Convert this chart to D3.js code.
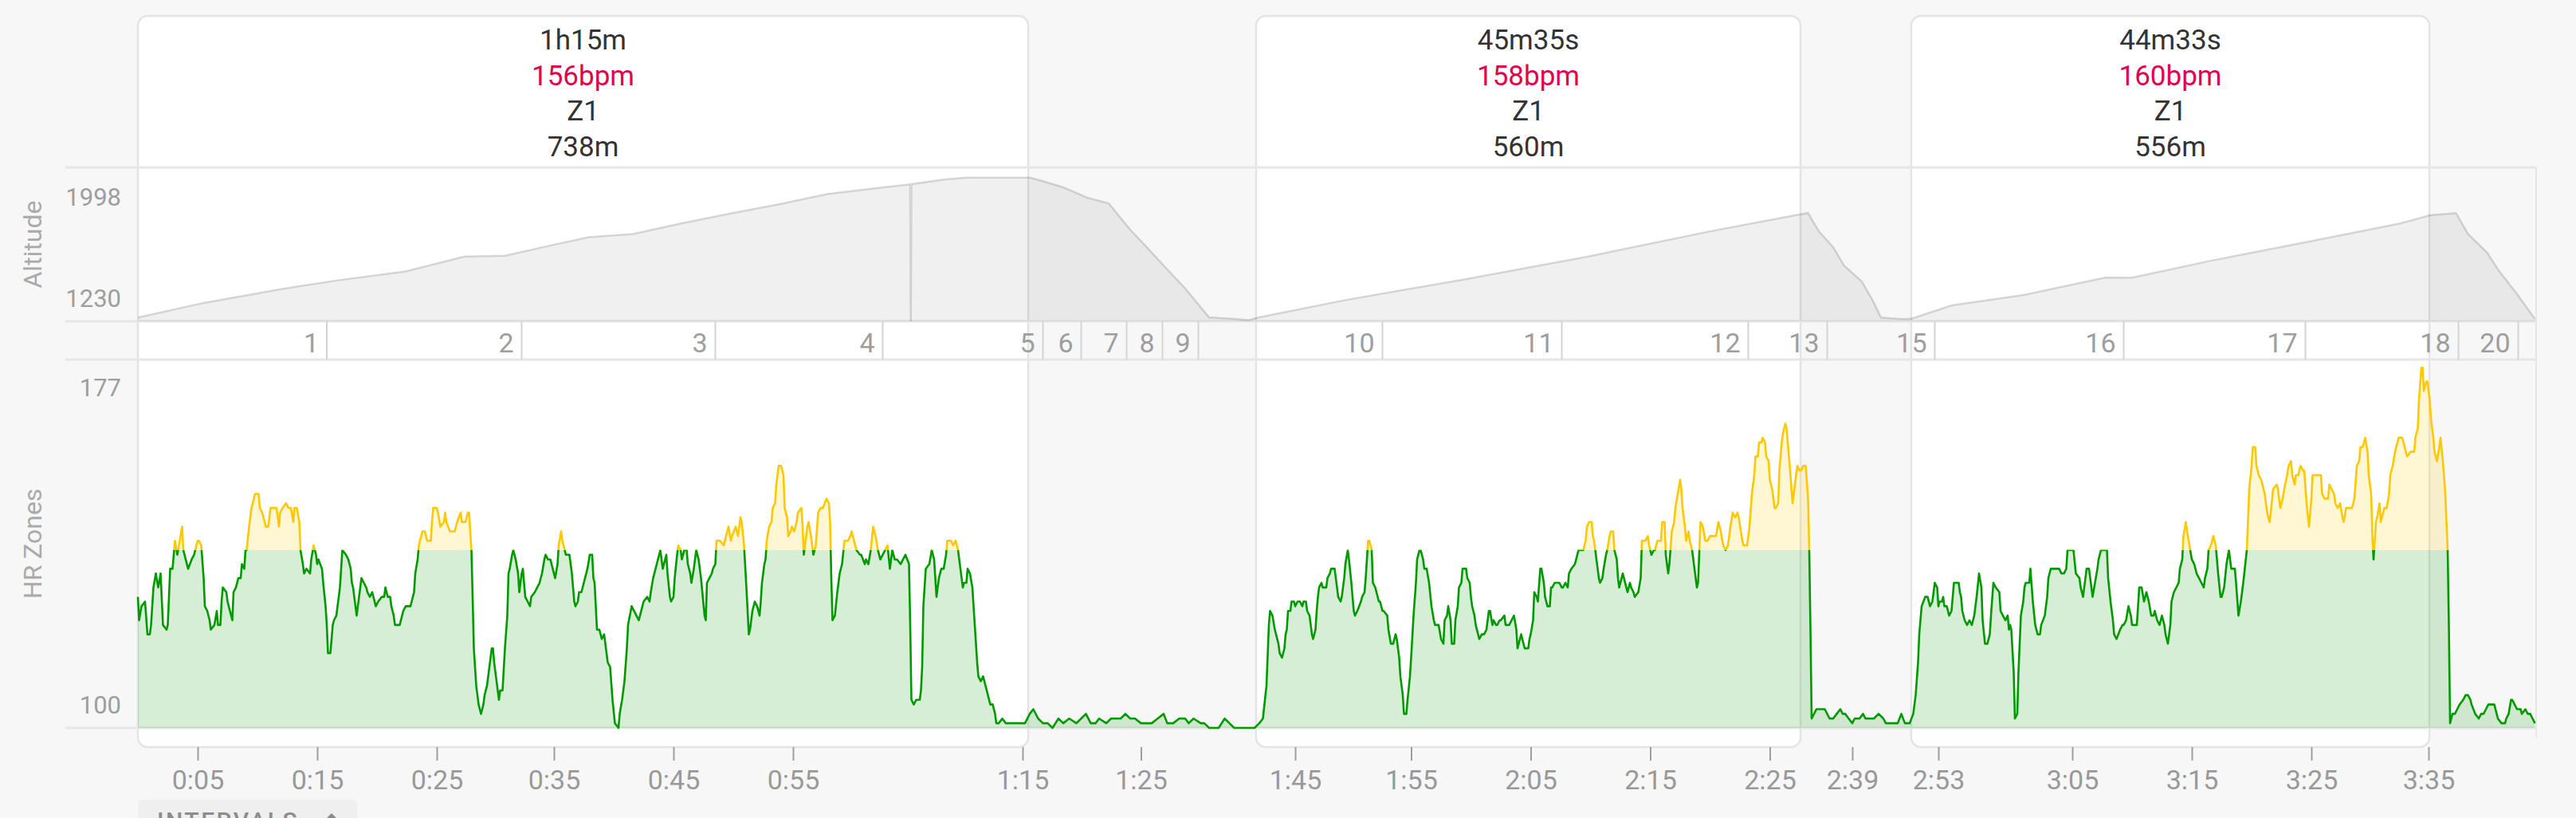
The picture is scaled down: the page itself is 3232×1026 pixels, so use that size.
<!DOCTYPE html>
<html>
<head>
<meta charset="utf-8">
<script src="https://cdn.jsdelivr.net/npm/d3@7"></script>
<style>
  body { margin: 0; background: #f7f7f7; font-family: Roboto, "Noto Sans", sans-serif; }
  svg { display: block; }
</style>
</head>
<body>
<div id="chart"></div>
<script>
// x unit = moving time in minutes (pauses squeezed out, like the original axis)
const intervalStarts = [0, 93.53, 148.33];
const intervalEnds = [74.47, 139.07, 191.67];
const intervalDurations = ['1h15m', '45m35s', '44m33s'];
const intervalHr = ['156bpm', '158bpm', '160bpm'];
const intervalZones = ['Z1', 'Z1', 'Z1'];
const intervalDistances = ['738m', '560m', '556m'];

const tickMinutes = [5.0, 15.0, 25.0, 34.8, 44.8, 54.8, 74.0, 83.9, 96.8, 106.5, 116.5, 126.5, 136.5, 143.4, 150.6, 161.8, 171.8, 181.8, 191.6];
const tickLabels = ['0:05', '0:15', '0:25', '0:35', '0:45', '0:55', '1:15', '1:25', '1:45', '1:55', '2:05', '2:15', '2:25', '2:39', '2:53', '3:05', '3:15', '3:25', '3:35'];

const lapEnds = [15.8, 32.1, 48.3, 62.3, 75.7, 78.9, 82.7, 85.7, 88.7, 104.1, 119.1, 134.7, 141.3, 150.3, 166.1, 181.3, 194.1, 199.1];
const lapLabels = ['1', '2', '3', '4', '5', '6', '7', '8', '9', '10', '11', '12', '13', '15', '16', '17', '18', '20'];

const altTicks = [1230, 1998];
const hrTicks = [100, 177];
const zoneLimit = 138;

// [minute, metres]
const altitude = [
  [0.0,1250],[5.5,1328],[12.3,1405],[16.7,1448],[22.5,1497],[27.3,1575],[30.7,1579],[35.1,1642],
  [37.7,1678],[41.4,1695],[45.5,1752],[49.3,1801],[53.7,1854],[57.7,1908],[62.3,1943],[64.3,1957],
  [64.6,1960],[64.65,1230],[64.7,1960],[67.5,1985],[69.3,1995],[74.6,1995],[75.6,1978],[77.4,1943],
  [79.4,1888],[81.2,1858],[83.0,1718],[84.5,1617],[85.8,1527],[87.6,1405],[89.6,1251],[91.7,1243],
  [92.9,1236],[93.7,1250],[100.9,1342],[111.1,1455],[121.3,1575],[131.5,1709],[138.6,1794],[139.7,1806],
  [140.6,1709],[141.8,1625],[142.7,1527],[144.2,1442],[145.1,1342],[145.8,1250],[147.3,1243],[148.3,1243],
  [151.7,1315],[157.7,1370],[164.6,1463],[166.8,1462],[173.5,1554],[181.5,1653],[189.3,1752],[191.7,1794],
  [193.9,1806],[194.9,1695],[196.5,1596],[197.5,1497],[198.9,1384],[200.5,1243]
];

// [minute, bpm]
const heartRate = [
  [0.0,128],[0.1,123],[0.3,126],[0.6,127],[0.8,120],[1.0,120],[1.1,122],[1.3,130],[1.5,133],[1.7,130],[1.9,133],
  [2.1,122],[2.4,121],[2.5,122],[2.7,134],[2.9,134],[3.1,140],[3.3,137],[3.5,140],[3.7,143],[3.8,138],[4.0,136],
  [4.2,134],[4.5,136],[4.7,137],[5.0,140],[5.1,140],[5.3,139],[5.5,132],[5.6,126],[5.8,125],[6.0,123],[6.1,121],
  [6.4,122],[6.6,125],[6.7,122],[6.9,122],[7.0,127],[7.1,130],[7.4,129],[7.5,127],[7.8,124],[7.9,123],[8.0,129],
  [8.2,130],[8.4,132],[8.6,132],[8.7,135],[8.9,134],[9.0,138],[9.1,138],[9.3,143],[9.5,147],[9.8,150],[10.1,150],
  [10.2,147],[10.4,146],[10.6,144],[10.7,143],[10.9,143],[11.1,147],[11.4,147],[11.6,147],[11.8,143],[11.9,146],
  [12.1,147],[12.4,148],[12.6,147],[12.8,147],[13.0,144],[13.1,147],[13.3,147],[13.5,144],[13.6,138],[13.8,135],
  [13.9,133],[14.1,134],[14.4,133],[14.5,136],[14.7,139],[14.9,137],[15.0,135],[15.1,136],[15.4,134],[15.5,131],
  [15.7,126],[15.8,122],[15.9,116],[16.1,116],[16.3,122],[16.4,123],[16.6,124],[16.7,126],[16.9,130],[17.0,134],
  [17.1,138],[17.4,137],[17.6,136],[17.8,134],[17.9,131],[18.0,130],[18.2,126],[18.3,124],[18.5,128],[18.6,130],
  [18.7,132],[18.9,131],[19.1,130],[19.2,129],[19.4,128],[19.6,129],[19.7,128],[19.9,126],[20.1,127],[20.4,128],
  [20.6,128],[20.7,130],[20.9,128],[21.1,128],[21.2,126],[21.4,124],[21.5,122],[21.7,122],[21.9,122],[22.1,124],
  [22.2,125],[22.4,126],[22.6,126],[22.8,126],[23.0,128],[23.1,129],[23.2,133],[23.4,136],[23.5,139],[23.6,140],
  [23.8,142],[24.0,142],[24.2,140],[24.5,140],[24.6,144],[24.7,147],[25.0,147],[25.1,146],[25.3,143],[25.6,144],
  [25.7,146],[25.8,144],[26.1,142],[26.5,142],[26.7,144],[27.0,146],[27.1,144],[27.4,144],[27.6,146],[27.7,146],
  [27.9,138],[28.0,128],[28.1,117],[28.3,109],[28.5,105],[28.7,103],[28.9,105],[29.0,107],[29.2,109],[29.4,113],
  [29.6,117],[29.7,117],[29.8,114],[30.0,110],[30.2,106],[30.3,108],[30.5,108],[30.7,117],[30.9,124],[31.0,133],
  [31.1,134],[31.3,137],[31.4,138],[31.6,136],[31.8,133],[31.9,129],[32.1,133],[32.2,134],[32.4,128],[32.6,127],
  [32.8,126],[32.9,128],[33.2,129],[33.4,130],[33.6,131],[33.8,133],[34.0,136],[34.1,137],[34.3,136],[34.5,136],
  [34.7,134],[34.9,132],[35.1,135],[35.2,139],[35.4,142],[35.5,140],[35.7,138],[35.8,137],[36.1,137],[36.3,133],
  [36.5,127],[36.6,126],[36.8,127],[36.9,129],[37.1,129],[37.4,132],[37.6,134],[37.8,137],[38.0,137],[38.1,132],
  [38.2,131],[38.4,121],[38.6,121],[38.8,119],[39.0,120],[39.2,116],[39.3,114],[39.5,113],[39.7,106],[39.9,101],
  [40.2,100],[40.3,103],[40.5,106],[40.7,110],[40.9,117],[41.0,122],[41.3,126],[41.5,125],[41.7,124],[41.9,123],
  [42.0,124],[42.3,127],[42.6,128],[42.8,127],[42.9,129],[43.1,132],[43.3,134],[43.6,137],[43.7,138],[43.9,134],
  [44.0,135],[44.2,137],[44.3,133],[44.5,128],[44.6,127],[44.8,128],[44.9,132],[45.1,137],[45.2,139],[45.4,138],
  [45.5,136],[45.7,138],[45.9,138],[46.0,135],[46.2,133],[46.3,131],[46.5,134],[46.7,138],[46.9,136],[47.1,132],
  [47.4,124],[47.5,123],[47.6,131],[47.8,132],[48.0,133],[48.1,134],[48.3,135],[48.4,140],[48.7,140],[49.0,139],
  [49.2,141],[49.4,143],[49.6,140],[49.7,141],[50.0,143],[50.2,141],[50.4,145],[50.5,144],[50.7,139],[50.9,130],
  [51.1,120],[51.2,121],[51.4,125],[51.6,127],[51.8,126],[52.0,124],[52.1,127],[52.2,131],[52.4,135],[52.5,136],
  [52.6,140],[52.8,143],[53.0,144],[53.1,147],[53.3,148],[53.4,152],[53.6,156],[53.8,156],[54.0,154],[54.1,147],
  [54.3,145],[54.4,141],[54.6,142],[54.7,143],[54.9,142],[55.1,144],[55.2,146],[55.5,147],[55.6,143],[55.7,137],
  [56.0,143],[56.1,144],[56.3,141],[56.5,137],[56.7,139],[56.9,146],[57.1,147],[57.3,147],[57.6,149],[57.8,148],
  [57.9,144],[58.0,132],[58.1,123],[58.3,124],[58.5,129],[58.7,133],[58.9,135],[59.1,140],[59.4,140],[59.6,141],
  [59.7,142],[59.9,140],[60.1,138],[60.4,137],[60.5,137],[60.8,135],[60.9,136],[61.1,135],[61.3,138],[61.5,143],
  [61.7,141],[61.9,138],[62.1,136],[62.3,137],[62.5,138],[62.7,139],[62.9,134],[63.1,138],[63.3,136],[63.5,136],
  [63.8,135],[64.0,136],[64.2,137],[64.5,135],[64.6,122],[64.7,106],[64.9,105],[65.1,106],[65.4,106],[65.5,108],
  [65.6,113],[65.7,126],[65.9,134],[66.2,135],[66.4,138],[66.6,136],[66.8,128],[67.0,132],[67.2,134],[67.4,134],
  [67.6,137],[67.7,140],[68.0,140],[68.2,139],[68.4,140],[68.6,138],[68.8,134],[69.0,130],[69.1,131],[69.3,131],
  [69.4,134],[69.6,133],[69.8,130],[70.0,122],[70.2,114],[70.3,111],[70.5,110],[70.7,111],[70.9,109],[71.1,107],
  [71.3,105],[71.5,105],[71.7,103],[71.8,101],[72.0,101],[72.3,102],[72.6,101],[72.9,101],[73.2,101],[73.6,101],
  [73.9,101],[74.2,101],[74.6,103],[74.9,104],[75.3,102],[75.7,101],[76.1,101],[76.5,100],[77.0,102],[77.4,101],
  [77.9,102],[78.5,101],[78.9,102],[79.3,103],[79.7,101],[80.1,101],[80.4,102],[81.0,101],[81.4,102],[81.9,102],
  [82.2,102],[82.6,103],[83.0,102],[83.4,102],[83.9,101],[84.3,101],[84.8,101],[85.3,102],[85.8,103],[86.1,101],
  [86.6,101],[87.1,102],[87.6,102],[87.9,101],[88.3,102],[88.9,101],[89.2,101],[89.6,100],[90.0,100],[90.4,100],
  [90.9,102],[91.3,101],[91.7,100],[92.2,100],[92.9,100],[93.4,100],[93.8,101],[94.1,102],[94.4,109],[94.6,122],
  [94.7,125],[94.9,124],[95.1,121],[95.2,120],[95.4,118],[95.5,116],[95.7,115],[95.9,117],[96.0,120],[96.1,121],
  [96.2,125],[96.4,125],[96.5,127],[96.7,127],[96.8,126],[97.0,127],[97.2,127],[97.4,126],[97.5,127],[97.7,127],
  [97.8,125],[98.0,124],[98.1,122],[98.2,120],[98.3,119],[98.5,121],[98.6,125],[98.7,128],[98.8,130],[99.0,131],
  [99.1,130],[99.4,130],[99.5,132],[99.7,133],[99.8,134],[100.1,134],[100.2,132],[100.4,128],[100.6,127],[100.7,128],
  [100.9,132],[101.0,135],[101.2,138],[101.3,136],[101.5,131],[101.7,125],[101.8,124],[102.0,125],[102.3,127],
  [102.4,128],[102.6,129],[102.7,132],[102.9,140],[103.0,140],[103.2,138],[103.3,131],[103.5,130],[103.6,129],
  [103.8,127],[103.9,127],[104.1,125],[104.2,125],[104.5,124],[104.6,121],[104.8,118],[105.0,118],[105.2,120],
  [105.3,119],[105.5,115],[105.6,111],[105.8,107],[105.9,103],[106.1,103],[106.2,106],[106.4,111],[106.5,115],
  [106.7,124],[106.9,131],[107.0,136],[107.2,138],[107.3,138],[107.5,136],[107.6,134],[107.8,134],[108.0,131],
  [108.2,126],[108.4,123],[108.5,122],[108.8,122],[109.0,119],[109.2,118],[109.3,123],[109.5,124],[109.6,126],
  [109.8,123],[109.9,118],[110.1,118],[110.2,123],[110.4,126],[110.5,130],[110.7,131],[110.8,134],[111.1,134],
  [111.2,132],[111.4,131],[111.5,128],[111.6,126],[111.8,124],[111.9,122],[112.1,120],[112.2,119],[112.4,120],
  [112.6,120],[112.8,121],[113.0,125],[113.1,125],[113.3,122],[113.4,123],[113.6,122],[113.7,122],[113.9,123],
  [114.0,123],[114.3,124],[114.4,122],[114.7,122],[114.9,123],[115.1,124],[115.3,121],[115.4,117],[115.6,119],
  [115.7,120],[115.9,118],[116.0,117],[116.3,117],[116.4,119],[116.5,120],[116.7,123],[116.8,129],[117.0,128],
  [117.1,127],[117.3,134],[117.4,134],[117.6,131],[117.7,128],[117.9,126],[118.1,126],[118.2,130],[118.3,130],
  [118.5,131],[118.8,131],[118.9,131],[119.1,130],[119.2,130],[119.4,131],[119.6,130],[119.7,133],[119.9,134],
  [120.2,135],[120.3,136],[120.5,138],[120.6,138],[120.9,138],[121.1,140],[121.2,143],[121.4,144],[121.6,144],
  [121.7,141],[121.8,140],[121.9,138],[122.0,136],[122.2,132],[122.3,131],[122.5,132],[122.6,134],[122.8,137],
  [122.9,138],[123.1,141],[123.2,142],[123.4,142],[123.5,138],[123.7,136],[123.8,132],[123.9,130],[124.1,132],
  [124.2,133],[124.3,132],[124.5,130],[124.6,129],[124.8,131],[124.9,130],[125.1,129],[125.2,128],[125.5,129],
  [125.7,132],[125.8,140],[126.1,140],[126.3,141],[126.4,139],[126.6,137],[126.8,138],[126.9,138],[127.1,140],
  [127.2,140],[127.4,140],[127.5,144],[127.7,144],[127.8,137],[128.0,133],[128.1,135],[128.3,142],[128.5,144],
  [128.6,147],[128.8,150],[129.0,153],[129.1,151],[129.2,147],[129.4,143],[129.5,140],[129.7,142],[129.8,140],
  [130.0,138],[130.2,134],[130.4,130],[130.5,131],[130.7,144],[130.9,143],[131.1,140],[131.3,140],[131.5,141],
  [131.7,141],[132.0,141],[132.2,144],[132.4,142],[132.6,139],[132.8,138],[133.0,139],[133.2,143],[133.4,146],
  [133.6,145],[133.8,146],[133.9,145],[134.2,140],[134.3,139],[134.6,139],[134.8,143],[135.0,150],[135.2,154],
  [135.3,158],[135.5,158],[135.6,161],[135.8,161],[135.9,162],[136.1,161],[136.2,158],[136.4,157],[136.5,153],
  [136.7,151],[136.9,147],[137.0,147],[137.2,148],[137.3,155],[137.5,161],[137.6,163],[137.8,165],[137.9,164],
  [138.1,158],[138.2,155],[138.4,148],[138.5,150],[138.7,154],[138.8,156],[139.0,155],[139.1,155],[139.3,156],
  [139.5,156],[139.7,149],[139.8,138],[139.9,121],[140.0,102],[140.2,103],[140.4,104],[140.8,104],[141.1,104],
  [141.5,102],[141.8,102],[142.1,103],[142.4,104],[142.6,103],[142.8,103],[143.1,102],[143.4,101],[143.6,102],
  [144.0,102],[144.3,103],[144.5,102],[144.8,102],[145.2,102],[145.6,103],[146.0,102],[146.2,101],[146.6,101],
  [147.2,101],[147.5,103],[147.8,101],[148.2,101],[148.5,103],[148.7,107],[148.9,114],[149.0,120],[149.2,126],
  [149.5,128],[149.7,128],[149.9,126],[150.1,127],[150.3,131],[150.5,130],[150.6,126],[150.7,127],[150.9,127],
  [151.0,128],[151.1,126],[151.3,126],[151.5,124],[151.7,125],[151.8,128],[151.9,131],[152.3,131],[152.4,129],
  [152.5,128],[152.6,125],[152.8,123],[153.0,122],[153.2,123],[153.4,122],[153.6,124],[153.8,128],[154.0,133],
  [154.2,130],[154.3,123],[154.5,118],[154.7,118],[154.9,120],[155.0,124],[155.2,131],[155.4,130],[155.7,129],
  [155.8,125],[156.0,124],[156.2,123],[156.4,124],[156.5,121],[156.6,122],[156.7,121],[156.9,112],[157.0,102],
  [157.2,103],[157.3,112],[157.5,124],[157.7,127],[157.8,130],[157.9,131],[158.2,131],[158.3,134],[158.5,127],
  [158.7,122],[158.9,120],[159.1,120],[159.2,122],[159.5,124],[159.7,128],[159.8,132],[160.0,134],[160.2,134],
  [160.4,134],[160.7,134],[160.9,133],[161.1,133],[161.3,134],[161.4,138],[161.6,138],[161.8,138],[161.9,138],
  [162.1,133],[162.4,132],[162.5,130],[162.7,128],[162.9,132],[163.0,134],[163.2,134],[163.3,132],[163.5,128],
  [163.7,131],[163.9,134],[164.0,136],[164.2,138],[164.5,138],[164.7,138],[164.8,132],[165.0,127],[165.2,123],
  [165.3,120],[165.5,119],[165.8,121],[166.0,122],[166.1,122],[166.3,123],[166.5,126],[166.7,124],[166.8,122],
  [167.0,122],[167.2,122],[167.3,126],[167.4,130],[167.6,130],[167.8,127],[168.0,129],[168.2,127],[168.4,124],
  [168.6,124],[168.7,125],[168.9,123],[169.1,122],[169.3,124],[169.5,122],[169.6,120],[169.8,118],[170.0,122],
  [170.1,127],[170.3,129],[170.5,130],[170.7,131],[170.8,134],[171.0,136],[171.1,141],[171.3,144],[171.4,142],
  [171.6,139],[171.8,136],[172.0,135],[172.2,133],[172.4,132],[172.6,131],[172.8,130],[172.9,132],[173.1,134],
  [173.2,138],[173.4,139],[173.6,141],[173.8,139],[174.0,133],[174.2,128],[174.3,128],[174.5,130],[174.7,135],
  [174.9,138],[175.1,134],[175.2,134],[175.4,134],[175.5,131],[175.7,124],[175.9,127],[176.0,129],[176.1,131],
  [176.4,138],[176.6,151],[176.8,156],[176.9,160],[177.1,160],[177.2,156],[177.4,154],[177.6,153],[177.7,152],
  [177.9,150],[178.1,146],[178.3,144],[178.4,146],[178.6,151],[178.9,152],[179.0,151],[179.2,147],[179.4,149],
  [179.6,152],[179.7,153],[179.9,156],[180.1,157],[180.2,154],[180.4,152],[180.5,154],[180.7,154],[180.9,156],
  [181.1,155],[181.2,155],[181.4,148],[181.6,143],[181.8,149],[181.9,154],[182.1,154],[182.3,154],[182.6,154],
  [182.7,150],[182.9,149],[183.2,149],[183.3,152],[183.5,151],[183.7,150],[183.8,148],[184.0,147],[184.2,148],
  [184.4,145],[184.5,144],[184.7,147],[185.0,147],[185.2,147],[185.4,149],[185.6,156],[185.8,157],[185.9,160],
  [186.1,160],[186.3,162],[186.5,159],[186.6,154],[186.8,150],[186.9,141],[187.0,136],[187.2,144],[187.3,145],
  [187.5,148],[187.6,144],[187.9,147],[188.1,147],[188.3,150],[188.4,154],[188.6,156],[188.8,159],[189.0,161],
  [189.1,162],[189.4,162],[189.6,160],[189.8,158],[190.1,159],[190.4,159],[190.5,162],[190.7,164],[190.8,170],
  [191.0,177],[191.1,177],[191.2,172],[191.4,174],[191.5,174],[191.7,170],[191.8,166],[192.0,162],[192.1,159],
  [192.3,157],[192.5,160],[192.6,162],[192.8,157],[193.0,150],[193.2,138],[193.3,122],[193.4,101],[193.6,103],
  [193.8,103],[194.0,104],[194.2,105],[194.5,106],[194.7,107],[194.9,107],[195.1,106],[195.2,105],[195.5,103],
  [195.8,102],[196.0,103],[196.2,103],[196.4,104],[196.6,105],[196.7,105],[196.9,105],[197.1,105],[197.3,103],
  [197.4,102],[197.7,101],[198.0,101],[198.1,102],[198.3,103],[198.5,106],[198.6,106],[198.8,105],[199.0,104],
  [199.3,104],[199.4,103],[199.7,104],[199.9,103],[200.1,103],[200.5,101]
];

class WorkoutChart {

    constructor(_config) {
        this.config = {
            parentElement: _config.parentElement,
            containerWidth: _config.containerWidth || 3232,
            containerHeight: _config.containerHeight || 1026
        };
        this.initVis();
    }

    initVis() {
        let vis = this;

        // panel layout
        vis.left = 173;
        vis.right = 3182;
        vis.altTop = 210;
        vis.altBottom = 403;
        vis.lapBottom = 451;
        vis.hrBottom = 913;

        vis.svg = d3.select(vis.config.parentElement)
            .append('svg')
            .attr('width', vis.config.containerWidth)
            .attr('height', vis.config.containerHeight)
            .style('font-family', 'Roboto, "Noto Sans", sans-serif');

        vis.x = d3.scaleLinear().domain([0, 200.6]).range([vis.left, vis.right]);
        vis.yAlt = d3.scaleLinear().domain([1230, 1998]).range([vis.altBottom, 222]);
        vis.yHr = d3.scaleLinear().domain([100, 177]).range([vis.hrBottom, 461]);

        let zoneY = vis.yHr(zoneLimit);
        let defs = vis.svg.append('defs');
        defs.append('clipPath').attr('id', 'clip-low')
            .append('rect')
            .attr('x', 0).attr('y', zoneY)
            .attr('width', vis.config.containerWidth).attr('height', vis.config.containerHeight);
        defs.append('clipPath').attr('id', 'clip-high')
            .append('rect')
            .attr('x', 0).attr('y', 0)
            .attr('width', vis.config.containerWidth).attr('height', zoneY);

        vis.intervals = intervalStarts.map((s, i) => ({
            start: s, end: intervalEnds[i],
            lines: [intervalDurations[i], intervalHr[i], intervalZones[i], intervalDistances[i]]
        }));
    }

    renderVis() {
        let vis = this;

        // interval cards
        vis.svg.selectAll('.card')
            .data(vis.intervals)
            .join('rect')
            .attr('class', 'card')
            .attr('x', d => vis.x(d.start))
            .attr('y', 20)
            .attr('width', d => vis.x(d.end) - vis.x(d.start))
            .attr('height', 917)
            .attr('rx', 12)
            .attr('fill', '#fff')
            .attr('stroke', '#e4e4e4')
            .attr('stroke-width', 2.5);

        let cardText = vis.svg.selectAll('.card-text')
            .data(vis.intervals)
            .join('g')
            .attr('class', 'card-text')
            .attr('transform', d => `translate(${(vis.x(d.start) + vis.x(d.end)) / 2},0)`);
        cardText.selectAll('text')
            .data(d => d.lines)
            .join('text')
            .attr('y', (d, i) => 62 + i * 44.7)
            .attr('text-anchor', 'middle')
            .attr('font-size', 35)
            .attr('fill', (d, i) => i === 1 ? '#e0044e' : '#333')
            .text(d => d);

        // horizontal frame lines
        vis.svg.selectAll('.grid')
            .data([vis.altTop, vis.altBottom, vis.lapBottom, vis.hrBottom])
            .join('line')
            .attr('class', 'grid')
            .attr('x1', 82).attr('x2', vis.right)
            .attr('y1', d => d).attr('y2', d => d)
            .attr('stroke', '#e6e6e6')
            .attr('stroke-width', 3);

        vis.svg.append('line')
            .attr('x1', vis.right).attr('x2', vis.right)
            .attr('y1', vis.altTop).attr('y2', 925)
            .attr('stroke', '#e6e6e6')
            .attr('stroke-width', 2);

        // laps
        vis.svg.selectAll('.lap-line')
            .data(lapEnds)
            .join('line')
            .attr('class', 'lap-line')
            .attr('x1', d => vis.x(d)).attr('x2', d => vis.x(d))
            .attr('y1', vis.altBottom).attr('y2', vis.lapBottom)
            .attr('stroke', '#d4d4d4')
            .attr('stroke-width', 2);

        vis.svg.selectAll('.lap-label')
            .data(lapEnds)
            .join('text')
            .attr('class', 'lap-label')
            .attr('x', d => vis.x(d) - 10)
            .attr('y', 442)
            .attr('text-anchor', 'end')
            .attr('font-size', 34)
            .attr('fill', '#9e9e9e')
            .text((d, i) => lapLabels[i]);

        // altitude
        let altArea = d3.area()
            .x(d => vis.x(d[0]))
            .y0(vis.altBottom)
            .y1(d => vis.yAlt(d[1]));
        let altLine = d3.line()
            .x(d => vis.x(d[0]))
            .y(d => vis.yAlt(d[1]));

        vis.svg.append('path')
            .datum(altitude)
            .attr('d', altArea)
            .attr('fill', 'rgba(0,0,0,0.058)');
        vis.svg.append('path')
            .datum(altitude)
            .attr('d', altLine)
            .attr('fill', 'none')
            .attr('stroke', 'rgba(0,0,0,0.14)')
            .attr('stroke-width', 2.5);

        // heart rate, green below the zone limit, yellow above
        let hrArea = d3.area()
            .x(d => vis.x(d[0]))
            .y0(vis.yHr(100))
            .y1(d => vis.yHr(d[1]));
        let hrLine = d3.line()
            .x(d => vis.x(d[0]))
            .y(d => vis.yHr(d[1]));

        let zones = [
            {clip: 'url(#clip-low)', fill: 'rgba(0,150,0,0.165)', stroke: '#009a00'},
            {clip: 'url(#clip-high)', fill: 'rgba(255,200,0,0.17)', stroke: '#ffc800'}
        ];
        zones.forEach(z => {
            vis.svg.append('path')
                .datum(heartRate)
                .attr('clip-path', z.clip)
                .attr('d', hrArea)
                .attr('fill', z.fill);
        });
        zones.forEach(z => {
            vis.svg.append('path')
                .datum(heartRate)
                .attr('clip-path', z.clip)
                .attr('d', hrLine)
                .attr('fill', 'none')
                .attr('stroke', z.stroke)
                .attr('stroke-width', 2.6)
                .attr('stroke-linejoin', 'round');
        });

        // y labels (min / max only, inset into the panel)
        vis.svg.selectAll('.alt-label')
            .data(altTicks)
            .join('text')
            .attr('class', 'alt-label')
            .attr('x', 152)
            .attr('y', (d, i) => vis.yAlt(d) + (i === 0 ? -29 : 25))
            .attr('dy', '0.35em')
            .attr('text-anchor', 'end')
            .attr('font-size', 31)
            .attr('fill', '#9e9e9e')
            .text(d => d);

        vis.svg.selectAll('.hr-label')
            .data(hrTicks)
            .join('text')
            .attr('class', 'hr-label')
            .attr('x', 152)
            .attr('y', (d, i) => vis.yHr(d) + (i === 0 ? -29 : 25))
            .attr('dy', '0.35em')
            .attr('text-anchor', 'end')
            .attr('font-size', 31)
            .attr('fill', '#9e9e9e')
            .text(d => d);

        let titles = [
            {text: 'Altitude', y: (vis.altTop + vis.altBottom) / 2},
            {text: 'HR Zones', y: (vis.lapBottom + vis.hrBottom) / 2}
        ];
        vis.svg.selectAll('.axis-title')
            .data(titles)
            .join('text')
            .attr('class', 'axis-title')
            .attr('transform', d => `translate(41,${d.y}) rotate(-90)`)
            .attr('dy', '0.35em')
            .attr('text-anchor', 'middle')
            .attr('font-size', 32)
            .attr('fill', '#aaa')
            .text(d => d.text);

        // time axis
        let xAxis = d3.axisBottom(vis.x)
            .tickValues(tickMinutes)
            .tickFormat((d, i) => tickLabels[i])
            .tickSize(17)
            .tickPadding(12);

        let axisG = vis.svg.append('g')
            .attr('transform', 'translate(0,937)')
            .call(xAxis);
        axisG.select('.domain').remove();
        axisG.selectAll('line').attr('stroke', '#9e9e9e').attr('stroke-width', 2);
        axisG.selectAll('text')
            .attr('font-size', 34)
            .attr('font-family', 'Roboto, sans-serif')
            .attr('fill', '#999');

        // intervals button, cut off by the bottom edge
        let btn = vis.svg.append('g').attr('transform', 'translate(173,1003)');
        btn.append('rect')
            .attr('width', 275).attr('height', 60).attr('rx', 6)
            .attr('fill', '#efefef');
        btn.append('text')
            .attr('x', 24).attr('y', 37)
            .attr('font-size', 30)
            .attr('font-weight', 500)
            .attr('letter-spacing', 2.5)
            .attr('fill', '#8c8c8c')
            .text('INTERVALS');
        btn.append('path')
            .attr('d', 'M236,24 l7,-7 l7,7 z')
            .attr('fill', '#8c8c8c');
    }
}

const chart = new WorkoutChart({parentElement: '#chart'});
chart.renderVis();
</script>
</body>
</html>
